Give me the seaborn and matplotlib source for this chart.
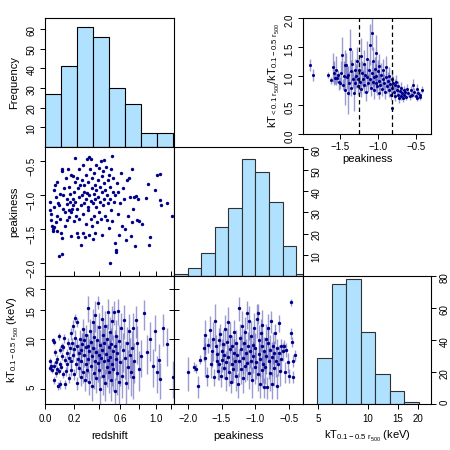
import numpy as np
import matplotlib
matplotlib.use("Agg")
import matplotlib.pyplot as plt
import seaborn as sns

# ---------------- data ----------------
# histogram of redshift (bins of 0.1 in ln(1+z))
z_edges = [0.0, 0.10517, 0.22140, 0.34986, 0.49182, 0.64872, 0.82212, 1.01375, 1.22554]
z_counts = [27, 41, 61, 56, 30, 22, 7, 7]

# histogram of peakiness
p_edges = [-2.2, -2.0, -1.8, -1.6, -1.4, -1.2, -1.0, -0.8, -0.6, -0.4, -0.2]
p_counts = [1, 4, 11, 23, 32, 55, 49, 35, 14, 1]

# histogram of kT (bins of 0.2 in ln kT)
t_edges = [4.953, 6.050, 7.389, 9.025, 11.023, 13.464, 16.445, 20.086]
t_counts = [29, 75, 78, 45, 19, 8, 1]

# peakiness vs redshift  (z, peakiness)
pk_z = [
    (0.03,-1.10),(0.035,-1.22),(0.04,-1.37),(0.045,-1.45),(0.05,-1.50),(0.05,-1.53),(0.055,-1.47),(0.04,-1.28),
    (0.06,-1.18),(0.06,-0.92),(0.065,-0.85),(0.07,-1.02),(0.07,-1.40),(0.075,-1.52),(0.08,-1.30),(0.08,-0.80),
    (0.085,-1.12),(0.09,-1.15),(0.09,-1.90),(0.10,-0.98),(0.10,-1.35),(0.105,-1.55),(0.11,-1.86),(0.11,-0.65),
    (0.115,-0.62),(0.115,-1.63),(0.12,-1.00),(0.12,-1.20),(0.125,-0.90),(0.13,-1.25),(0.13,-1.45),
    (0.14,-0.75),(0.145,-1.05),(0.15,-1.13),(0.15,-1.37),(0.155,-0.62),(0.16,-0.88),(0.16,-1.22),(0.165,-1.32),
    (0.17,-0.98),(0.17,-1.10),(0.175,-0.70),(0.18,-1.60),(0.18,-1.25),(0.185,-1.20),(0.19,-0.72),(0.19,-1.05),
    (0.195,-1.15),(0.20,-0.95),(0.20,-1.38),(0.205,-0.80),(0.21,-0.45),(0.21,-1.10),(0.215,-1.30),(0.22,-1.20),
    (0.22,-0.75),(0.225,-1.55),(0.23,-0.90),(0.23,-1.62),(0.235,-1.02),(0.24,-0.62),(0.24,-1.35),(0.245,-0.85),
    (0.25,-1.15),(0.25,-1.73),
    (0.26,-0.78),(0.26,-1.00),(0.265,-1.28),(0.27,-0.55),(0.27,-1.55),(0.275,-0.95),(0.28,-1.12),(0.28,-0.85),
    (0.285,-1.62),(0.29,-0.70),(0.29,-1.05),(0.295,-1.42),(0.30,-0.47),(0.30,-0.97),(0.305,-1.18),(0.31,-0.80),
    (0.31,-1.22),(0.315,-0.44),(0.32,-1.00),(0.32,-1.58),(0.325,-0.62),(0.33,-1.08),(0.33,-1.35),(0.335,-0.46),
    (0.34,-0.90),(0.34,-1.45),(0.345,-0.75),(0.35,-1.12),(0.35,-1.64),(0.355,-0.98),(0.36,-0.68),(0.36,-1.30),
    (0.365,-0.85),(0.37,-1.05),(0.37,-1.55),(0.375,-0.55),(0.38,-1.18),(0.38,-0.92),(0.385,-1.40),(0.39,-0.78),
    (0.395,-1.02),(0.40,-1.25),
    (0.405,-0.60),(0.41,-0.88),(0.415,-1.10),(0.42,-0.50),(0.42,-1.35),(0.425,-0.72),(0.43,-0.95),(0.43,-1.58),
    (0.435,-1.15),(0.44,-0.65),(0.445,-0.82),(0.45,-1.05),(0.45,-0.48),(0.455,-1.30),(0.46,-0.92),(0.465,-0.58),
    (0.47,-1.00),(0.475,-1.36),(0.48,-0.77),(0.485,-1.12),(0.49,-0.70),(0.495,-1.48),(0.50,-0.88),(0.50,-2.00),
    (0.505,-1.05),(0.51,-0.62),(0.515,-1.22),(0.52,-0.42),(0.525,-1.38),(0.53,-0.95),(0.535,-0.75),(0.54,-1.10),
    (0.545,-1.70),(0.55,-1.00),(0.555,-1.84),(0.56,-1.81),(0.565,-0.82),
    (0.575,-1.28),(0.58,-0.95),(0.59,-1.58),(0.60,-1.12),(0.61,-0.68),(0.62,-1.45),(0.63,-0.90),(0.64,-1.05),
    (0.65,-1.50),(0.66,-1.66),(0.67,-0.78),(0.68,-1.30),(0.69,-0.75),(0.70,-1.02),(0.71,-1.60),(0.72,-0.61),
    (0.72,-1.40),(0.73,-1.20),(0.75,-1.03),(0.76,-1.75),(0.77,-1.01),(0.78,-1.36),(0.79,-1.05),(0.80,-1.38),
    (0.84,-1.43),(0.88,-1.04),(0.91,-0.83),(0.92,-1.74),(0.93,-1.62),(0.99,-0.93),(1.02,-0.70),(1.05,-0.69),
    (1.05,-1.07),(1.07,-1.14),(1.14,-1.12),(1.22,-1.31),
]

# kT vs redshift  (z, kT, kT error)
kt_z = [
    (0.03,7.4,0.3),(0.035,6.7,0.3),(0.04,6.9,0.3),(0.045,6.5,0.3),(0.05,9.8,0.4),(0.055,9.6,0.4),(0.055,6.9,0.3),
    (0.06,5.6,0.3),(0.065,8.3,0.4),(0.07,7.2,0.3),(0.07,6.2,0.3),(0.075,6.6,0.3),(0.08,7.6,0.4),(0.085,5.2,0.3),
    (0.09,6.4,0.3),(0.09,10.4,0.5),(0.095,7.0,0.3),(0.10,8.6,0.4),(0.10,5.3,0.3),(0.105,6.8,0.3),(0.11,7.9,0.4),
    (0.115,9.0,0.5),(0.12,6.1,0.3),(0.12,8.9,0.4),(0.125,10.1,0.6),(0.13,7.5,0.4),(0.135,5.3,0.3),(0.14,6.4,0.4),
    (0.145,8.2,0.5),(0.15,7.0,0.5),
    (0.155,9.5,0.6),(0.16,5.8,0.4),(0.165,7.7,0.6),(0.17,8.8,0.7),(0.175,6.5,0.5),(0.18,10.8,0.9),(0.18,7.3,0.6),
    (0.185,9.4,0.8),(0.19,8.0,0.8),(0.195,12.0,1.0),(0.20,6.1,0.5),(0.20,8.7,0.9),(0.205,10.2,1.2),(0.21,13.4,0.8),
    (0.215,7.0,0.8),(0.22,5.4,0.5),(0.22,9.0,1.0),(0.225,12.6,0.8),(0.23,7.6,1.0),(0.235,8.2,1.1),(0.24,6.7,0.8),
    (0.245,10.0,1.3),(0.25,5.9,0.7),(0.25,8.6,1.4),(0.255,7.3,1.0),(0.26,9.3,1.5),(0.265,6.3,0.9),(0.27,11.5,1.8),
    (0.275,8.0,1.2),(0.28,9.8,1.5),(0.285,5.6,0.8),(0.29,7.0,1.1),(0.29,8.9,1.6),(0.295,10.5,1.7),(0.30,6.5,1.0),
    (0.305,9.1,1.6),(0.31,15.4,2.8),(0.31,7.6,1.4),(0.315,5.5,0.9),(0.32,8.5,1.5),(0.325,11.2,2.0),(0.33,6.9,1.3),
    (0.335,9.6,1.8),(0.34,7.9,1.5),(0.345,5.2,1.0),(0.35,12.6,2.5),(0.35,8.8,1.6),(0.355,6.2,1.2),(0.36,10.3,2.2),
    (0.365,7.4,1.5),(0.37,14.0,3.0),(0.375,8.3,1.7),(0.38,5.8,1.1),(0.385,9.9,2.3),(0.39,7.1,1.6),(0.395,16.6,1.5),
    (0.40,8.0,1.8),(0.40,11.8,2.6),(0.405,6.5,1.4),(0.41,9.2,2.1),(0.415,5.0,1.0),(0.42,7.7,1.9),(0.425,13.2,2.8),
    (0.43,8.6,2.0),(0.435,6.0,1.4),(0.44,10.6,2.5),(0.445,7.3,1.8),(0.45,9.5,2.2),(0.455,5.4,1.2),(0.46,12.0,2.8),
    (0.465,8.1,2.0),(0.47,6.8,1.7),(0.475,10.0,2.4),(0.48,7.5,1.8),(0.485,14.5,3.0),(0.49,8.9,2.2),(0.495,6.3,1.6),
    (0.50,11.0,2.6),(0.505,7.8,2.0),(0.51,5.6,1.4),(0.515,9.3,2.4),(0.52,7.0,1.8),(0.525,12.8,3.0),(0.53,8.4,2.1),
    (0.535,6.6,1.8),(0.54,14.6,2.5),(0.545,9.0,2.3),(0.55,4.8,1.0),(0.555,7.6,2.0),(0.56,10.4,2.6),(0.565,6.2,1.6),
    (0.57,8.2,2.2),(0.58,14.8,2.6),(0.585,5.5,1.5),(0.59,9.7,2.5),
    (0.60,7.2,2.0),(0.61,11.6,2.8),(0.62,6.0,1.6),(0.63,8.6,2.3),(0.64,13.0,3.0),(0.65,7.7,2.0),(0.66,5.4,1.5),
    (0.67,9.4,2.5),(0.68,6.8,1.8),(0.69,11.2,3.0),(0.70,8.0,2.2),(0.71,6.3,1.8),(0.72,8.8,2.4),(0.73,11.6,2.8),
    (0.74,5.9,1.6),(0.75,7.4,2.0),(0.77,13.0,2.8),(0.78,9.5,2.5),(0.80,6.6,1.8),(0.82,7.9,2.0),(0.86,14.3,3.0),
    (0.89,8.3,2.2),(0.93,10.0,2.6),(0.96,6.9,1.8),(0.99,11.2,2.8),(1.02,6.3,1.6),(1.04,7.5,1.8),(1.06,5.7,1.4),
    (1.09,11.6,2.5),(1.14,9.3,2.4),(1.23,5.9,1.5),
]

# kT vs peakiness  (peakiness, kT, kT error)
kt_pk = [
    (-2.00,6.3,1.5),(-1.91,6.8,0.4),(-1.88,6.6,0.4),(-1.84,5.2,0.8),(-1.81,7.5,0.5),(-1.76,8.8,1.5),(-1.75,7.7,1.8),
    (-1.74,10.6,2.5),(-1.72,6.0,0.8),(-1.70,9.2,1.0),(-1.67,11.3,2.5),(-1.66,7.0,1.2),(-1.64,8.4,1.6),(-1.62,10.0,2.6),
    (-1.61,5.9,0.7),
    (-1.59,12.8,3.5),(-1.58,9.0,1.6),(-1.57,7.3,1.0),(-1.56,8.1,1.2),(-1.55,6.4,0.8),(-1.54,9.8,1.8),(-1.53,7.0,1.4),
    (-1.52,10.7,1.6),(-1.51,6.0,0.9),(-1.50,8.5,1.5),(-1.49,7.5,1.2),(-1.48,9.3,2.0),(-1.47,6.7,1.0),(-1.46,8.0,1.5),
    (-1.45,11.5,2.5),(-1.44,7.2,1.3),(-1.43,5.8,1.0),(-1.42,9.6,2.0),(-1.41,12.6,3.0),(-1.40,7.8,1.4),(-1.39,6.3,1.1),
    (-1.38,8.7,1.8),(-1.37,10.4,2.2),(-1.36,5.5,0.8),(-1.35,7.0,1.6),(-1.34,9.0,1.5),(-1.33,6.6,1.2),(-1.32,8.2,1.8),
    (-1.31,11.0,2.0),(-1.30,7.4,1.5),
    (-1.29,6.0,1.2),(-1.28,9.4,2.0),(-1.27,8.0,1.6),(-1.26,5.3,0.9),(-1.25,15.4,2.5),(-1.24,7.3,1.4),(-1.23,10.2,2.2),
    (-1.22,6.6,1.3),(-1.21,8.7,1.8),(-1.20,12.0,2.8),(-1.19,7.7,1.6),(-1.18,5.8,1.1),(-1.17,9.5,2.0),(-1.16,6.9,1.4),
    (-1.15,11.0,2.5),(-1.14,8.2,1.8),(-1.13,14.3,2.8),(-1.12,7.1,1.5),(-1.11,9.0,2.0),(-1.10,6.2,1.2),(-1.09,12.8,3.0),
    (-1.08,8.5,1.8),(-1.07,7.4,1.6),(-1.06,10.4,2.4),(-1.05,5.6,1.2),(-1.04,9.2,2.2),(-1.03,7.9,1.7),(-1.02,11.6,2.8),
    (-1.01,6.8,1.5),(-1.00,8.8,2.0),(-0.99,7.2,1.5),(-0.98,13.2,3.0),(-0.97,14.3,2.0),(-0.96,6.1,1.3),(-0.95,9.8,2.3),
    (-0.95,8.1,1.8),(-0.94,5.3,0.9),(-0.93,7.6,1.7),(-0.92,10.8,2.5),(-0.91,6.5,1.4),(-0.90,9.1,2.0),(-0.90,12.2,2.8),
    (-0.89,7.0,1.6),(-0.88,8.4,1.9),(-0.87,5.1,0.7),(-0.86,6.8,1.5),(-0.85,10.0,2.4),(-0.84,7.9,1.8),(-0.83,5.1,0.8),
    (-0.82,9.4,2.2),
    (-0.81,11.6,2.6),(-0.80,7.3,1.6),(-0.79,6.2,1.4),(-0.78,8.6,2.0),(-0.77,12.8,2.0),(-0.76,7.8,1.8),(-0.75,5.3,1.0),
    (-0.74,9.0,2.0),(-0.73,6.7,1.5),(-0.72,8.2,1.5),(-0.71,10.8,1.5),(-0.70,7.4,1.5),(-0.69,5.2,0.9),(-0.68,8.8,1.2),
    (-0.67,7.0,1.0),(-0.66,12.5,1.5),(-0.65,8.2,1.0),(-0.64,6.4,1.2),(-0.63,9.0,1.0),(-0.62,7.6,1.2),(-0.60,8.4,1.0),
    (-0.58,9.1,0.8),(-0.56,6.3,0.9),(-0.55,8.6,0.8),(-0.52,7.2,1.0),(-0.50,6.0,0.6),(-0.48,10.8,0.8),(-0.47,16.7,0.8),
    (-0.46,9.6,0.7),(-0.45,5.9,0.5),(-0.44,7.4,0.6),(-0.42,8.0,0.6),
]

# temperature ratio vs peakiness  (peakiness, ratio, ratio error)
ratio_pk = [
    (-1.90,1.19,0.10),(-1.86,1.02,0.10),(-1.66,1.02,0.05),(-1.62,0.93,0.06),(-1.60,1.15,0.25),(-1.58,1.05,0.20),
    (-1.57,0.97,0.10),(-1.55,1.10,0.25),(-1.54,0.96,0.08),(-1.53,1.02,0.08),(-1.52,0.90,0.15),(-1.50,0.88,0.10),
    (-1.49,1.05,0.20),(-1.48,1.37,0.30),(-1.46,0.85,0.10),(-1.45,1.00,0.25),(-1.44,1.19,0.25),(-1.43,0.75,0.25),
    (-1.42,1.19,0.20),(-1.41,0.98,0.20),(-1.40,0.70,0.35),(-1.39,1.02,0.15),(-1.38,0.88,0.20),(-1.37,1.46,0.35),
    (-1.36,1.08,0.20),(-1.35,0.80,0.15),(-1.34,1.20,0.25),(-1.33,0.95,0.15),(-1.32,0.70,0.30),(-1.31,1.10,0.20),
    (-1.30,0.88,0.15),(-1.29,1.00,0.20),(-1.28,1.25,0.25),(-1.27,0.82,0.15),(-1.26,0.95,0.15),(-1.25,1.10,0.20),
    (-1.24,0.90,0.20),(-1.23,1.35,0.30),(-1.22,0.78,0.15),(-1.21,1.05,0.20),(-1.20,0.95,0.15),(-1.19,1.20,0.25),
    (-1.18,0.85,0.15),(-1.17,1.02,0.20),(-1.16,0.72,0.15),(-1.15,1.30,0.30),(-1.14,0.98,0.15),(-1.13,0.88,0.15),
    (-1.12,1.10,0.20),(-1.11,1.54,0.35),(-1.10,0.95,0.15),(-1.09,0.80,0.15),(-1.08,1.74,0.30),(-1.08,1.05,0.20),
    (-1.07,0.90,0.15),(-1.06,1.25,0.25),(-1.05,0.98,0.15),(-1.05,0.75,0.15),(-1.04,1.12,0.20),(-1.03,0.88,0.15),
    (-1.02,1.00,0.20),(-1.02,1.40,0.30),(-1.01,0.82,0.15),(-1.00,1.08,0.20),(-0.99,0.92,0.15),(-0.98,0.70,0.10),
    (-0.98,1.18,0.20),(-0.97,0.85,0.15),(-0.96,1.02,0.20),(-0.95,0.78,0.12),(-0.94,0.95,0.15),(-0.93,1.10,0.20),
    (-0.92,0.88,0.15),(-0.91,0.72,0.12),(-0.90,0.98,0.15),(-0.89,1.15,0.20),(-0.88,0.82,0.12),(-0.87,0.92,0.15),
    (-0.86,0.75,0.12),(-0.85,1.00,0.15),(-0.84,0.86,0.12),(-0.83,0.68,0.10),(-0.82,0.44,0.05),(-0.82,0.95,0.15),
    (-0.81,0.80,0.12),(-0.80,0.88,0.12),(-0.79,0.72,0.10),(-0.78,0.84,0.10),(-0.77,0.65,0.08),(-0.76,0.90,0.12),
    (-0.75,0.76,0.10),(-0.74,0.68,0.08),(-0.73,0.82,0.10),(-0.72,0.62,0.08),(-0.71,0.74,0.08),(-0.70,0.66,0.08),
    (-0.69,0.80,0.10),(-0.68,0.70,0.08),(-0.67,0.62,0.06),(-0.66,0.75,0.08),(-0.65,0.67,0.06),(-0.64,0.72,0.08),
    (-0.63,0.64,0.06),(-0.62,0.78,0.08),(-0.60,0.70,0.06),(-0.58,0.65,0.06),(-0.57,0.75,0.08),(-0.55,0.68,0.06),
    (-0.54,0.85,0.10),(-0.52,0.72,0.08),(-0.50,0.66,0.06),(-0.49,0.78,0.08),(-0.48,0.62,0.05),(-0.47,0.70,0.06),
    (-0.45,0.68,0.05),(-0.44,0.64,0.05),(-0.42,0.76,0.06),
]

peak_cuts = [-1.25, -0.82]

z_ticks = [0.0, 0.2, 0.4, 0.6, 0.8, 1.0, 1.2]
z_ticklabels = ["0.0", "0.2", "", "0.6", "", "1.0", ""]
p_ticks = [-2.0, -1.5, -1.0, -0.5]
p_ticklabels = ["\u22122.0", "\u22121.5", "\u22121.0", "\u22120.5"]
t_ticks = [5, 10, 15, 20]
ratio_ticks = [0.0, 0.5, 1.0, 1.5, 2.0]

# ---------------- style ----------------
sns.set_theme(style="ticks")
plt.rcParams["font.family"] = ["Liberation Sans", "DejaVu Sans"]
plt.rcParams["mathtext.fontset"] = "custom"
plt.rcParams["mathtext.rm"] = "Liberation Sans"
plt.rcParams["mathtext.it"] = "Liberation Sans:italic"
plt.rcParams["mathtext.default"] = "regular"
plt.rcParams["axes.linewidth"] = 0.8
plt.rcParams["axes.edgecolor"] = "black"
plt.rcParams["text.color"] = "black"
plt.rcParams["axes.labelcolor"] = "black"
plt.rcParams["xtick.color"] = "black"
plt.rcParams["ytick.color"] = "black"
plt.rcParams["xtick.labelcolor"] = "black"
plt.rcParams["ytick.labelcolor"] = "black"

FILL = "#B0E2FF"
EDGE = "#303030"
PT = "#00008B"
ERR = "#3a3aa8"
TS = 7      # tick label size
LS = 8      # axis label size
OUT = 3.6   # outward tick length (pt)
IO = 6.5    # in-out tick length on shared borders (pt)

def fwd(z):
    z = np.asarray(z, dtype=float)
    return np.log10(np.maximum(1.0 + z, 1e-6))

def inv(v):
    v = np.asarray(v, dtype=float)
    return 10.0 ** v - 1.0

fig = plt.figure(figsize=(4.5, 4.5), dpi=100)

def R(x0, x1, y0, y1):
    return [x0 / 450, 1 - y1 / 450, (x1 - x0) / 450, (y1 - y0) / 450]

ZLIM = (0.0, 1.242)
PLIM = (-2.2, -0.3)
TLIM = (4.03, 24.1)

def base(ax):
    ax.tick_params(labelsize=TS, width=0.7, color="black", labelcolor="black",
                   pad=2.5, length=OUT, direction="out",
                   bottom=True, left=True, top=False, right=False)
    for s in ax.spines.values():
        s.set_visible(True)
        s.set_color("black")
        s.set_linewidth(0.8)
    ax.set_facecolor("white")
    ax.grid(False)

def centers(edges):
    e = np.asarray(edges)
    return (e[:-1] + e[1:]) / 2

# ---- A: histogram of redshift ----
axA = fig.add_axes(R(45, 174, 18, 147))
sns.histplot(x=centers(z_edges), weights=z_counts, bins=z_edges, ax=axA,
             color=FILL, edgecolor="black", linewidth=0.8, alpha=1)
axA.set_xscale("function", functions=(fwd, inv))
axA.set_xlim(*ZLIM)
axA.set_ylim(0, 65.6)
base(axA)
axA.set_xticks(z_ticks[1:])
axA.minorticks_off()
axA.tick_params(axis="x", direction="inout", length=IO, labelbottom=False)
axA.set_yticks([10, 20, 30, 40, 50, 60])
axA.set_yticklabels(["10", "20", "30", "40", "50", "60"])
axA.tick_params(axis="y", labelrotation=90)
axA.set_xlabel("")
axA.set_ylabel("Frequency", fontsize=LS, labelpad=5)

# ---- B: peakiness vs redshift ----
axB = fig.add_axes(R(45, 174, 147, 276))
bz, bp = zip(*pk_z)
sns.scatterplot(x=list(bz), y=list(bp), ax=axB, s=6, color=PT, linewidth=0)
axB.set_xscale("function", functions=(fwd, inv))
axB.set_xlim(*ZLIM)
axB.set_ylim(-2.19, -0.29)
base(axB)
axB.set_xticks(z_ticks)
axB.minorticks_off()
axB.tick_params(axis="x", direction="inout", length=IO, labelbottom=False)
axB.set_yticks(p_ticks)
axB.set_yticklabels(p_ticklabels)
axB.tick_params(axis="y", labelrotation=90)
axB.set_ylabel("peakiness", fontsize=LS, labelpad=5)
axB.set_xlabel("")

# ---- C: histogram of peakiness ----
axC = fig.add_axes(R(174, 303, 147, 276))
sns.histplot(x=centers(p_edges), weights=p_counts, bins=p_edges, ax=axC,
             color=FILL, edgecolor=EDGE, linewidth=0.8, alpha=1)
axC.set_xlim(*PLIM)
axC.set_ylim(0, 60.8)
base(axC)
axC.set_xticks(p_ticks)
axC.tick_params(axis="x", direction="inout", length=IO, labelbottom=False)
axC.set_yticks([10, 20, 30, 40, 50, 60])
axC.set_yticklabels(["10", "20", "30", "40", "50", "60"])
axC.tick_params(axis="y", left=False, labelleft=False, right=True, labelright=True,
                labelrotation=90)
axC.set_xlabel("")
axC.set_ylabel("")

# ---- D: kT vs redshift ----
axD = fig.add_axes(R(45, 174, 276, 404))
dz, dt, de = (np.array(v) for v in zip(*kt_z))
axD.vlines(dz, dt - de, dt + de, color=ERR, alpha=0.5, linewidth=1.0)
sns.scatterplot(x=dz, y=dt, ax=axD, s=6, color=PT, linewidth=0, zorder=3)
axD.set_xscale("function", functions=(fwd, inv))
axD.set_yscale("log")
axD.set_xlim(*ZLIM)
axD.set_ylim(*TLIM)
base(axD)
axD.set_xticks(z_ticks)
axD.set_xticklabels(z_ticklabels)
axD.set_yticks(t_ticks)
axD.set_yticklabels([str(t) for t in t_ticks])
axD.minorticks_off()
axD.tick_params(axis="y", labelrotation=90)
axD.tick_params(axis="x", pad=3.5)
axD.set_xlabel("redshift", fontsize=LS, labelpad=5)
axD.set_ylabel(r"kT$_{0.1-0.5\ \mathrm{r}_{500}}$ (keV)", fontsize=LS, labelpad=4)

# ---- E: kT vs peakiness ----
axE = fig.add_axes(R(174, 303, 276, 404))
ep, et, ee = (np.array(v) for v in zip(*kt_pk))
axE.vlines(ep, et - ee, et + ee, color=ERR, alpha=0.5, linewidth=1.0)
sns.scatterplot(x=ep, y=et, ax=axE, s=6, color=PT, linewidth=0, zorder=3)
axE.set_yscale("log")
axE.set_xlim(*PLIM)
axE.set_ylim(*TLIM)
base(axE)
axE.set_xticks(p_ticks)
axE.set_xticklabels(p_ticklabels)
axE.set_yticks(t_ticks)
axE.minorticks_off()
axE.tick_params(axis="y", direction="inout", length=IO, labelleft=False)
axE.tick_params(axis="x", pad=3.5)
axE.set_xlabel("peakiness", fontsize=LS, labelpad=5)
axE.set_ylabel("")

# ---- F: histogram of kT ----
axF = fig.add_axes(R(303, 431, 276, 404))
sns.histplot(x=centers(t_edges), weights=t_counts, bins=t_edges, ax=axF,
             color=FILL, edgecolor=EDGE, linewidth=0.8, alpha=1)
axF.set_xscale("log")
axF.set_xlim(4.07, 23.8)
axF.set_ylim(0, 80)
base(axF)
axF.set_xticks(t_ticks)
axF.set_xticklabels([str(t) for t in t_ticks])
axF.minorticks_off()
axF.set_yticks([0, 20, 40, 60, 80])
axF.set_yticklabels(["0", "20", "40", "60", "80"])
axF.tick_params(axis="y", left=False, labelleft=False, right=True, labelright=True,
                labelrotation=90)
axF.tick_params(axis="x", pad=3.5)
axF.set_xlabel(r"kT$_{0.1-0.5\ \mathrm{r}_{500}}$ (keV)", fontsize=LS, labelpad=4)
axF.set_ylabel("")

# ---- G: temperature ratio vs peakiness ----
axG = fig.add_axes(R(303, 431, 18, 134))
gp, gr, ge = (np.array(v) for v in zip(*ratio_pk))
axG.vlines(gp, gr - ge, gr + ge, color=ERR, alpha=0.5, linewidth=1.0)
sns.scatterplot(x=gp, y=gr, ax=axG, s=5, color=PT, linewidth=0, zorder=3)
for c in peak_cuts:
    axG.axvline(c, color="black", linestyle=(0, (3.5, 2.5)), linewidth=0.9, zorder=4)
axG.set_xlim(-1.99, -0.30)
axG.set_ylim(0, 2)
base(axG)
axG.set_xticks([-1.5, -1.0, -0.5])
axG.set_xticklabels(["\u22121.5", "\u22121.0", "\u22120.5"])
axG.set_yticks(ratio_ticks)
axG.set_yticklabels(["0.0", "0.5", "1.0", "1.5", "2.0"])
axG.tick_params(axis="y", labelrotation=90)
axG.set_xlabel("peakiness", fontsize=LS, labelpad=1)
axG.set_ylabel(r"kT$_{<0.1\ \mathrm{r}_{500}}$/kT$_{0.1-0.5\ \mathrm{r}_{500}}$",
               fontsize=LS, labelpad=2)

fig.savefig("out.png", dpi=100, facecolor="white")
